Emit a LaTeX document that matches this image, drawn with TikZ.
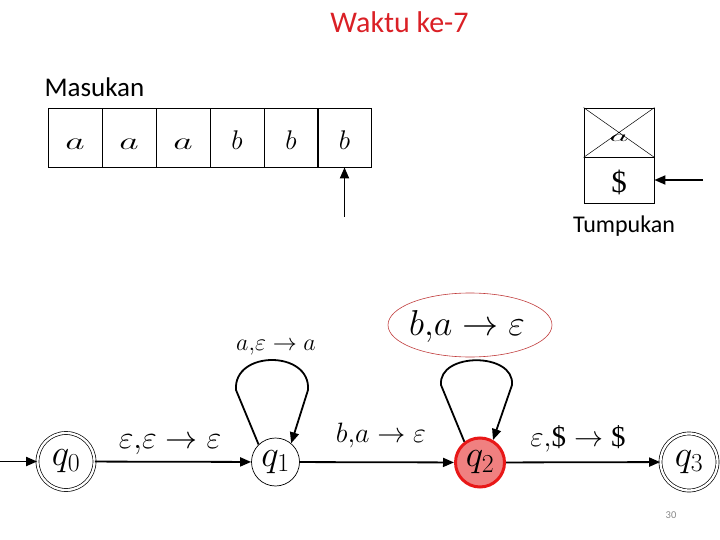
\RequirePackage{fix-cm}
\documentclass[tikz,border=0pt]{standalone}
\usepackage{fontspec}
\setmainfont{Carlito}
\newfontfamily\lserif{Liberation Serif}
\usetikzlibrary{arrows.meta,shapes.geometric}
\definecolor{titlered}{RGB}{218,32,38}
\definecolor{hlred}{RGB}{192,60,60}
\definecolor{qfill}{RGB}{240,128,128}
\definecolor{qborder}{RGB}{232,24,24}
\definecolor{pagegray}{RGB}{137,137,137}
\begin{document}
\begin{tikzpicture}[x=1pt,y=-1pt,
  cell/.style={draw,line width=0.8pt,minimum width=54pt,minimum height=59pt,inner sep=0pt,
    text height=25pt,text depth=0pt,font=\fontsize{27}{27}\selectfont},
  stk/.style={draw,line width=0.8pt,minimum width=70pt,inner sep=0pt},
  state/.style={circle,draw,line width=0.7pt,inner sep=0pt,minimum size=48pt,font=\fontsize{37}{37}\selectfont},
  accept/.style={state,double,double distance=2.3pt,minimum size=57pt},
  edge/.style={line width=1.8pt,-{Triangle[length=11pt,width=9pt]}},
  lbl/.style={anchor=base,inner sep=0pt,font=\fontsize{28}{28}\selectfont},
  slbl/.style={anchor=base,inner sep=0pt,font=\fontsize{24}{24}\selectfont},
  ttl/.style={anchor=base,inner sep=0pt}]
\useasboundingbox (0,0) rectangle (720,540);

% texts
\node[ttl,text=titlered,font=\fontsize{30}{30}\selectfont] (title) at (399.5,33) {Waktu ke-7};
\node[ttl,font=\fontsize{27}{27}\selectfont] (masukan) at (94.5,97) {Masukan};
\node[ttl,font=\fontsize{24}{24}\selectfont] (tumpukan) at (624,233) {Tumpukan};

% tape
\node[cell] (c1) at (75,137.5) {\scalebox{1.4}[0.9]{$a$}};
\node[cell] (c2) at (129,137.5) {\scalebox{1.4}[0.9]{$a$}};
\node[cell] (c3) at (183,137.5) {\scalebox{1.4}[0.9]{$a$}};
\node[cell] (c4) at (237,137.5) {$b$};
\node[cell] (c5) at (291,137.5) {$b$};
\node[cell] (c6) at (344.5,137.5) {$b$};
\coordinate (headfoot) at (344.5,217);
\draw[edge] (headfoot) -- (c6.south);

% stack
\node[stk,minimum height=49pt,text height=18pt,text depth=0pt,font=\fontsize{26}{26}\selectfont] (s1) at (619,132.5) {\scalebox{1.4}[0.6]{$a$}};
\draw[line width=0.5pt] (s1.north west) -- (s1.south east) (s1.north east) -- (s1.south west);
\node[stk,minimum height=46pt,text height=24pt,text depth=0pt,font=\fontsize{31}{31}\selectfont\lserif] (s2) at (619,180.5) {\$};
\coordinate (stackptr) at (703,180);
\draw[edge] (stackptr) -- (s2.east |- stackptr);

% states
\node[accept] (q0) at (66,461.5) {$q_0$};
\node[state] (q1) at (275.5,462) {$q_1$};
\node[state,fill=qfill,draw=qborder,line width=3pt,minimum size=49pt] (q2) at (480,462.5) {$q_2$};
\node[accept] (q3) at (689,462) {$q_3$};

\coordinate (init) at (0,461.5);
\draw[edge] (init) -- (q0);
\draw[edge] (q0) -- (q1);
\draw[edge] (q1) -- (q2);
\draw[edge] (q2) -- (q3);

% loops
\draw[edge] (q1.134) -- (236,390) .. controls (233,350) and (311,350) .. (308,390) -- (q1.50);
\draw[edge] (q2.127) -- (441,385) .. controls (438,352) and (515,352) .. (512,385) -- (q2.60);

% labels
\node[lbl,font=\fontsize{32}{32}\selectfont] (l01) at (170,448) {$\varepsilon,\!\varepsilon\rightarrow\varepsilon$};
\node[slbl] (l11) at (276,350) {$a,\!\varepsilon\rightarrow a$};
\node[lbl] (l12) at (381,442) {$b,\!a\rightarrow\varepsilon$};
\node[lbl,font=\fontsize{29}{29}\selectfont] (l23) at (578,446) {$\varepsilon,\!\mbox{\lserif\$}\rightarrow\mbox{\lserif\$}$};
\node[lbl,font=\fontsize{36}{36}\selectfont] (l22) at (467,335) {$b,\!a\rightarrow\varepsilon$};
\node[ellipse,draw=hlred,line width=0.6pt,minimum width=164pt,minimum height=64pt] (hl) at (470,325) {};

% page number
\node[text=pagegray,font=\fontsize{10.5}{10.5}\selectfont] (page) at (671,515) {30};
\end{tikzpicture}
\end{document}
